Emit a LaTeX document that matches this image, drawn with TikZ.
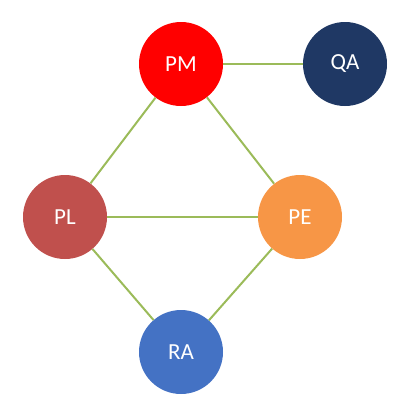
\documentclass[tikz,border=0pt]{standalone}
\usepackage{fontspec}
\setmainfont{Carlito}
\usepackage{tikz}
\usetikzlibrary{calc}
\usetikzlibrary{positioning}

\definecolor{pmred}{RGB}{255,0,0}
\definecolor{qanavy}{RGB}{31,56,100}
\definecolor{plred}{RGB}{192,80,77}
\definecolor{peorange}{RGB}{247,150,70}
\definecolor{rablue}{RGB}{68,114,196}
\definecolor{linkgreen}{RGB}{155,187,89}

\begin{document}
\begin{tikzpicture}[x=1pt, y=-1pt]
            \useasboundingbox (0,0) rectangle (406,399);

            \begin{scope}[every node/.style={circle, minimum size=84pt, inner sep=0pt, text=white, font=\fontsize{23}{23}\selectfont}]
                \node[fill=pmred] (PM) at (181,64) {PM};
                \node[fill=qanavy] (QA) at (345,64) {QA};
                \node[fill=plred] (PL) at (65,217) {PL};
                \node[fill=peorange] (PE) at (300,217) {PE};
                \node[fill=rablue] (RA) at (181,352) {RA};
            \end{scope}

            \begin{scope}[every edge/.style={draw=linkgreen, line width=2pt}]
                \path [-] (PM) edge (QA);
                \path [-] (PM) edge (PL);
                \path [-] (PM) edge (PE);
                \path [-] (PL) edge (PE);
                \path [-] (PL) edge (RA);
                \path [-] (PE) edge (RA);
            \end{scope}
        \end{tikzpicture}
\end{document}
